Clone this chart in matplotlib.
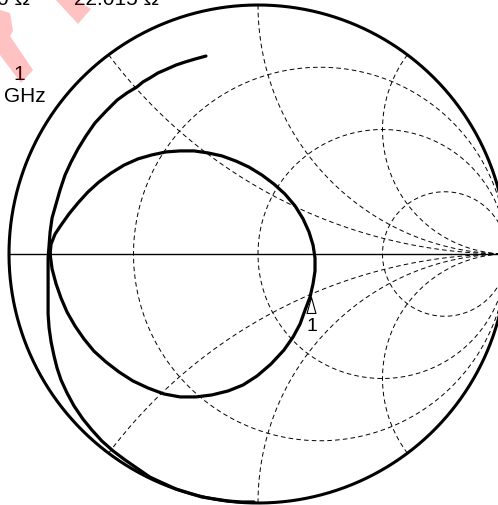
import matplotlib
matplotlib.use("Agg")
import matplotlib.pyplot as plt
import numpy as np
from matplotlib.patches import Polygon
from matplotlib.path import Path

plt.rcParams['font.family'] = ['Liberation Sans', 'DejaVu Sans']
plt.rcParams['lines.scale_dashes'] = False

# Smith chart grid values (normalized)
r_grid = [1/3, 1, 3]
x_grid = [0.5, 1, 2]

# trace 1 : outer spiral (reflection coefficient, re / im)
tr1_re = [-0.209, -0.253, -0.293, -0.329, -0.365, -0.402, -0.434, -0.462, -0.486,
          -0.526, -0.566, -0.610, -0.655, -0.691, -0.723, -0.751, -0.775, -0.795,
          -0.811, -0.827, -0.835, -0.839, -0.843, -0.843, -0.843, -0.843, -0.843,
          -0.839, -0.831, -0.819, -0.807, -0.791, -0.767, -0.739, -0.703, -0.667,
          -0.627, -0.582, -0.534, -0.482, -0.434, -0.382, -0.329, -0.277, -0.225,
          -0.173, -0.120, -0.068, -0.016]
tr1_im = [0.795, 0.783, 0.771, 0.759, 0.743, 0.727, 0.707, 0.691, 0.671,
          0.647, 0.618, 0.574, 0.526, 0.474, 0.422, 0.369, 0.317, 0.257,
          0.201, 0.145, 0.088, 0.036, -0.016, -0.072, -0.129, -0.185, -0.241,
          -0.297, -0.353, -0.410, -0.458, -0.506, -0.558, -0.610, -0.663, -0.707,
          -0.751, -0.791, -0.827, -0.863, -0.896, -0.920, -0.944, -0.960, -0.976,
          -0.984, -0.992, -0.996, -0.996]

# trace 2 : inner loop
tr2_re = [-0.835, -0.831, -0.815, -0.791, -0.759, -0.723, -0.683, -0.639, -0.590,
          -0.538, -0.482, -0.426, -0.369, -0.313, -0.257, -0.201, -0.145, -0.088,
          -0.036, 0.016, 0.064, 0.108, 0.149, 0.181, 0.205, 0.221, 0.229, 0.229,
          0.221, 0.209, 0.189, 0.169, 0.141, 0.104, 0.052, -0.004, -0.060, -0.120,
          -0.185, -0.249, -0.313, -0.378, -0.442, -0.502, -0.558, -0.610, -0.659,
          -0.699, -0.735, -0.767, -0.791, -0.811, -0.827, -0.835]
tr2_im = [0.000, 0.040, 0.080, 0.116, 0.161, 0.205, 0.249, 0.289, 0.325,
          0.357, 0.382, 0.398, 0.410, 0.414, 0.414, 0.406, 0.394, 0.373,
          0.349, 0.317, 0.281, 0.241, 0.193, 0.141, 0.088, 0.036, -0.016, -0.068,
          -0.120, -0.173, -0.225, -0.281, -0.333, -0.386, -0.442, -0.490, -0.526, -0.550,
          -0.566, -0.574, -0.574, -0.562, -0.538, -0.510, -0.474, -0.434, -0.390,
          -0.341, -0.289, -0.233, -0.177, -0.120, -0.060, 0.000]

# marker 1
mk_re = [0.211]
mk_im = [-0.173]
mk_label = "1"

fig = plt.figure(figsize=(4.98, 5.05), dpi=100)
ax = fig.add_axes([0, 0, 1, 1])
ax.set_xlim(-258/249, 240/249)
ax.set_ylim(-251/249, 254/249)
ax.axis('off')

def px(x, y):
    return ((x - 258) / 249, (254 - y) / 249)

dash = dict(color='k', lw=0.7, dashes=(3.3, 2.3))

# constant resistance circles
t = np.linspace(0, 2*np.pi, 600)
for r in r_grid:
    c = r / (1 + r)
    rad = 1 / (1 + r)
    ax.plot(c + rad*np.cos(t), rad*np.sin(t), **dash)

# constant reactance arcs
rr = np.tan(np.linspace(0, np.pi/2 - 5e-4, 800))
for x in x_grid:
    for s in (1, -1):
        z = rr + 1j*s*x
        g = (z - 1) / (z + 1)
        ax.plot(g.real, g.imag, **dash)

# outer circle and real axis
ax.plot(np.cos(t), np.sin(t), color='k', lw=2.2)
ax.plot([-1, 1], [0, 0], color='k', lw=1.0)

# traces
ax.plot(tr1_re, tr1_im, color='k', lw=2.3, solid_joinstyle='round', solid_capstyle='round')
ax.plot(tr2_re, tr2_im, color='k', lw=2.3, solid_joinstyle='round', solid_capstyle='round')

# marker (open triangle, apex on the trace)
tri = Path([(0, 0), (-0.28, -1), (0.28, -1), (0, 0)],
           [Path.MOVETO, Path.LINETO, Path.LINETO, Path.CLOSEPOLY])
ax.plot(mk_re, mk_im, linestyle='none', marker=tri, markersize=23,
        markerfacecolor='white', markeredgecolor='k', markeredgewidth=0.8)
ax.annotate(mk_label, (mk_re[0], mk_im[0]), xytext=(1, -29),
            textcoords='offset pixels', ha='center', va='center', fontsize=14)

# readout text at top left (clipped by figure edge, as in the original)
ax.text(*px(-3, 5), "0 Ω", fontsize=15, ha='left', va='baseline')
ax.text(*px(74, 5), "22.015 Ω", fontsize=15, ha='left', va='baseline')
ax.text(*px(13, 80), "1", fontsize=15, ha='left', va='baseline')
ax.text(*px(4, 102), "GHz", fontsize=15, ha='left', va='baseline')

# pink highlight overlay
for poly in ([(54, -2), (73, -2), (91, 9), (78, 24)],
             [(0, 10), (10, 13), (13, 31), (10, 36), (33, 70), (21, 83), (0, 55)]):
    ax.add_patch(Polygon([px(a, b) for a, b in poly], closed=True,
                         facecolor='red', edgecolor='none', alpha=0.24, zorder=5))

fig.savefig('out.png', dpi=100)
